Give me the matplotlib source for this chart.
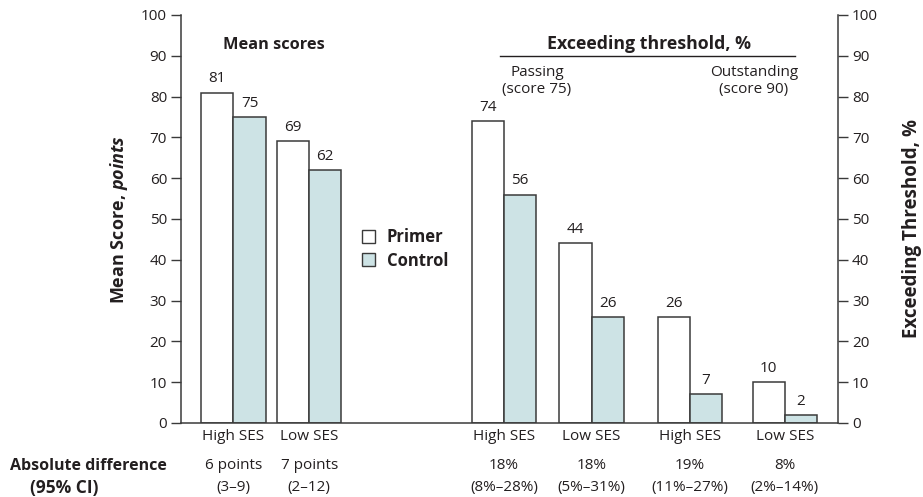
import matplotlib
matplotlib.use("Agg")
import matplotlib.pyplot as plt
from matplotlib.patches import Patch
from matplotlib.lines import Line2D

plt.rcParams['font.family'] = ['Open Sans', 'DejaVu Sans']
plt.rcParams['mathtext.fontset'] = 'custom'
plt.rcParams['mathtext.bf'] = 'Open Sans:bold'
plt.rcParams['mathtext.it'] = 'Open Sans:italic'
plt.rcParams['mathtext.bfit'] = 'Open Sans:bold:italic'

TXT = '#231f20'
EDGE = '#3a3a3a'
CTRL = '#cde3e5'

categories = ["High SES", "Low SES", "High SES", "Low SES", "High SES", "Low SES"]
primer = [81, 69, 74, 44, 26, 10]
control = [75, 62, 56, 26, 7, 2]
diff_line1 = ["6 points", "7 points", "18%", "18%", "19%", "8%"]
diff_line2 = ["(3–9)", "(2–12)", "(8%–28%)", "(5%–31%)", "(11%–27%)", "(2%–14%)"]
yticks = [0, 10, 20, 30, 40, 50, 60, 70, 80, 90, 100]

# group centers (in bar-width units)
centers = [1.63, 3.98, 10.03, 12.75, 15.80, 18.75]
W = 1.0
FS = 11

fig = plt.figure(figsize=(9.23, 4.97), dpi=100)
ax = fig.add_axes([181/923, 1-423/497, (838-181)/923, (423-15)/497])

ax.bar([c - W/2 for c in centers], primer, width=W, color='white', edgecolor=EDGE, linewidth=1.1, label='Primer')
ax.bar([c + W/2 for c in centers], control, width=W, color=CTRL, edgecolor=EDGE, linewidth=1.1, label='Control')

for c, p, q in zip(centers, primer, control):
    ax.text(c - W/2, p + 1.5, str(p), ha='center', va='bottom', fontsize=FS, color=TXT)
    ax.text(c + W/2, q + 1.5, str(q), ha='center', va='bottom', fontsize=FS, color=TXT)

ax.set_xlim(0, 20.4)
ax.set_ylim(0, 100)
ax.set_yticks(yticks)
ax.tick_params(axis='y', which='both', direction='out', length=7, width=1.0, color=EDGE,
               labelsize=FS, labelcolor=TXT, left=True, right=True, labelleft=True, labelright=True, pad=3)
ax.set_xticks(centers)
ax.set_xticklabels(categories, fontsize=FS, color=TXT)
ax.tick_params(axis='x', length=0, pad=4)
for s in ['left', 'right', 'bottom']:
    ax.spines[s].set_color(EDGE)
    ax.spines[s].set_linewidth(1.1)
ax.spines['top'].set_visible(False)

# bottom difference rows
for c, a, b in zip(centers, diff_line1, diff_line2):
    ax.text(c, -10.5, a, ha='center', va='center', fontsize=FS, color=TXT)
    ax.text(c, -15.8, b, ha='center', va='center', fontsize=FS, color=TXT)
fig.text(10/923, 1-466/497, "Absolute difference", ha='left', va='center', fontsize=11.5, fontweight='bold', color=TXT)
fig.text(30/923, 1-488/497, "(95% CI)", ha='left', va='center', fontsize=12.5, fontweight='bold', color=TXT)

# axis labels
fig.text(119/923, 1-219/497, r"Mean Score, $\mathbfit{points}$", rotation=90, ha='center', va='center',
         fontsize=13, fontweight='bold', color=TXT)
fig.text(912/923, 1-228/497, "Exceeding Threshold, %", rotation=90, ha='center', va='center',
         fontsize=13.5, fontweight='bold', color=TXT)

# section titles
fig.text(274/923, 1-45/497, "Mean scores", ha='center', va='center', fontsize=11.8, fontweight='bold', color=TXT)
fig.text(649/923, 1-44/497, "Exceeding threshold, %", ha='center', va='center', fontsize=12.8, fontweight='bold', color=TXT)
fig.add_artist(Line2D([500/923, 795/923], [1-56/497, 1-56/497], color=TXT, linewidth=1.0))
fig.text(537/923, 1-81/497, "Passing\n(score 75)", ha='center', va='center', fontsize=FS, color=TXT, linespacing=1.2)
fig.text(754/923, 1-81/497, "Outstanding\n(score 90)", ha='center', va='center', fontsize=FS, color=TXT, linespacing=1.2)

# legend
handles = [Patch(facecolor='white', edgecolor=EDGE, linewidth=1.0),
           Patch(facecolor=CTRL, edgecolor=EDGE, linewidth=1.0)]
leg = fig.legend(handles, ['Primer', 'Control'], loc='center left', bbox_to_anchor=(362/923, 1-249/497),
                 frameon=False, borderpad=0, borderaxespad=0,
                 handlelength=0.8, handleheight=0.8, handletextpad=0.7, labelspacing=0.3,
                 prop={'weight': 'bold', 'size': 12})
for t in leg.get_texts():
    t.set_color(TXT)

fig.savefig("out.png", dpi=100)
